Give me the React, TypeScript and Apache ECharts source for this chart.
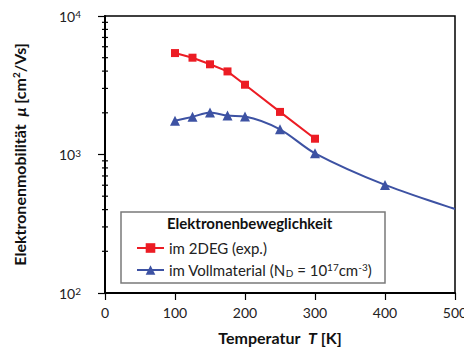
import React, { useEffect, useRef } from "react";
import * as echarts from "echarts";

const temps2DEG = [100, 125, 150, 175, 200, 250, 300];
const mobility2DEG = [5400, 5000, 4480, 3980, 3190, 2030, 1300];

const tempsBulk = [100, 125, 150, 175, 200, 250, 300, 400, 500];
const mobilityBulk = [1750, 1870, 2010, 1910, 1880, 1520, 1020, 603, 404];
const bulkMarkerShown = [true, true, true, true, true, true, true, true, false];

const minorTickValues = [200, 300, 400, 500, 600, 700, 800, 900, 2000, 3000, 4000, 5000, 6000, 7000, 8000, 9000];

const xTicks = [0, 100, 200, 300, 400, 500];

const FONT = "Lato";
const RED = "#ec1c24";
const BLUE = "#3d52a3";

export default function App() {
  const ref = useRef<HTMLDivElement>(null);
  useEffect(() => {
    if (!ref.current) return;
    const chart = echarts.init(ref.current, null, { renderer: "svg" });
    chart.setOption({
      animation: false,
      textStyle: { fontFamily: FONT },
      grid: {
        left: 105,
        right: 17,
        top: 16,
        bottom: 63,
        show: true,
        borderColor: "#000",
        borderWidth: 1.5,
        backgroundColor: "transparent",
      },
      xAxis: {
        type: "value",
        min: xTicks[0],
        max: xTicks[xTicks.length - 1],
        interval: 100,
        axisLine: { show: true, lineStyle: { color: "#000", width: 2 } },
        axisTick: { show: true, length: 7, lineStyle: { color: "#000", width: 1.2 } },
        axisLabel: { fontSize: 14, color: "#222", margin: 12, fontFamily: FONT },
        splitLine: { show: false },
        name: "Temperatur  {i|T} [K]",
        nameLocation: "middle",
        nameGap: 36,
        nameTextStyle: {
          fontSize: 16,
          fontWeight: "bold",
          color: "#111",
          fontFamily: FONT,
          rich: {
            i: { fontSize: 16, fontWeight: "bold", fontStyle: "italic", color: "#111", fontFamily: FONT },
          },
        },
      },
      yAxis: {
        type: "log",
        logBase: 10,
        min: 100,
        max: 10000,
        axisLine: { show: true, lineStyle: { color: "#000", width: 2 } },
        axisTick: { show: true, length: 7, lineStyle: { color: "#000", width: 1.2 } },
        axisLabel: {
          fontSize: 14,
          color: "#222",
          margin: 24,
          fontFamily: FONT,
          formatter: (v: number) => "10{sup|" + Math.round(Math.log10(v)) + "}",
          rich: { sup: { fontSize: 10, verticalAlign: "top", fontFamily: FONT, color: "#222" } },
        },
        splitLine: { show: false },
        name: "Elektronenmobilität  {i|μ} [cm{sup|2}/Vs]",
        nameLocation: "middle",
        nameRotate: 90,
        nameGap: 78,
        nameTextStyle: {
          fontSize: 16,
          fontWeight: "bold",
          color: "#111",
          fontFamily: FONT,
          rich: {
            i: { fontSize: 16, fontWeight: "bold", fontStyle: "italic", color: "#111", fontFamily: FONT },
            sup: { fontSize: 10, fontWeight: "bold", verticalAlign: "top", color: "#111", fontFamily: FONT },
          },
        },
      },
      legend: {
        orient: "vertical",
        left: 131,
        top: 235,
        itemWidth: 27,
        itemHeight: 12,
        itemGap: 6,
        z: 10,
        data: ["2deg", "bulk"],
        textStyle: {
          fontSize: 15,
          lineHeight: 16,
          color: "#222",
          fontFamily: FONT,
          rich: {
            sup: { fontSize: 10, lineHeight: 8, verticalAlign: "top", fontFamily: FONT, color: "#222" },
            sub: { fontSize: 10, lineHeight: 8, verticalAlign: "bottom", fontFamily: FONT, color: "#222" },
          },
        },
        formatter: (name: string) =>
          name === "2deg"
            ? "im 2DEG (exp.)"
            : "im Vollmaterial (N{sub|D} = 10{sup|17}cm{sup|-3})",
      },
      graphic: [
        {
          type: "rect",
          z: 5,
          shape: { x: 121, y: 212, width: 264, height: 71 },
          style: { fill: "#fff", stroke: "#7a7a7a", lineWidth: 1.5 },
        },
        {
          type: "text",
          z: 6,
          x: 167,
          y: 223,
          style: {
            text: "Elektronenbeweglichkeit",
            fontSize: 15,
            fontWeight: "bold",
            fill: "#111",
            fontFamily: FONT,
            verticalAlign: "middle",
          },
        },
      ],
      series: [
        {
          name: "2deg",
          type: "line",
          data: temps2DEG.map((t, i) => [t, mobility2DEG[i]]),
          symbol: "rect",
          symbolSize: 8,
          lineStyle: { color: RED, width: 2 },
          itemStyle: { color: RED },
          z: 3,
        },
        {
          name: "bulk",
          type: "line",
          smooth: 0.3,
          data: tempsBulk.map((t, i) => ({
            value: [t, mobilityBulk[i]],
            symbol: bulkMarkerShown[i] ? "triangle" : "none",
          })),
          symbol: "triangle",
          symbolSize: 10,
          lineStyle: { color: BLUE, width: 2 },
          itemStyle: { color: BLUE },
          z: 2,
        },
        {
          name: "minorTicks",
          type: "custom",
          data: minorTickValues.map((v) => [0, v]),
          silent: true,
          z: 4,
          renderItem: (params: any, api: any) => {
            const p = api.coord([0, api.value(1)]);
            const x0 = params.coordSys.x;
            return {
              type: "line",
              shape: { x1: x0 - 3, y1: p[1], x2: x0 + 3, y2: p[1] },
              style: { stroke: "#000", lineWidth: 1.2 },
            };
          },
        },
      ],
    });
    return () => chart.dispose();
  }, []);
  return <div ref={ref} style={{ width: 472, height: 356, margin: -8 }} />;
}
